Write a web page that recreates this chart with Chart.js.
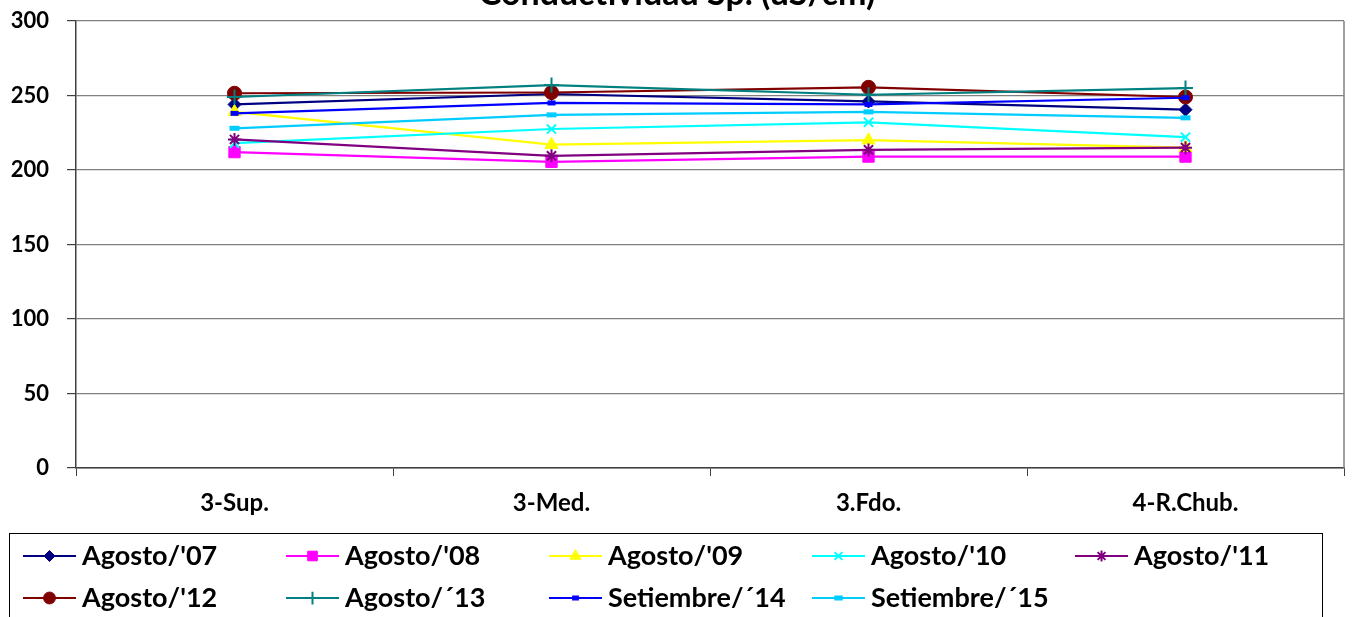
<!DOCTYPE html>
<html>
<head>
<meta charset="utf-8">
<script src="https://cdn.jsdelivr.net/npm/chart.js@4/dist/chart.umd.min.js"></script>
<style>
  html, body { margin: 0; padding: 0; background: #fff; }
  #chart { display: block; }
</style>
</head>
<body>
<canvas id="chart" width="1354" height="617"></canvas>
<script>
// categories (sampling sites)
const sites = ["3-Sup.", "3-Med.", "3.Fdo.", "4-R.Chub."];

// series values, uS/cm
const agosto07 = [244, 251, 246, 240.5];
const agosto08 = [212, 205.5, 209, 209];
const agosto09 = [239, 217, 220, 215];
const agosto10 = [218, 227.5, 232, 222];
const agosto11 = [220.5, 209.5, 213.5, 215];
const agosto12 = [251.5, 252, 255.5, 249];
const agosto13 = [249, 257, 250.5, 255];
const setiembre14 = [238, 245, 244, 248.5];
const setiembre15 = [228, 237, 239, 235];

const seriesNames = ["Agosto/'07", "Agosto/'08", "Agosto/'09", "Agosto/'10", "Agosto/'11",
                     "Agosto/'12", "Agosto/´13", "Setiembre/´14", "Setiembre/´15"];

const titleText = "Conductividad Sp. (uS/cm)";

const styles = [
    { color: '#000080', point: 'rectRot', radius: 6.5 },
    { color: '#FF00FF', point: 'rect', radius: 8 },
    { color: '#FFFF00', point: 'triangle', radius: 7.5 },
    { color: '#00FFFF', point: 'crossRot', radius: 6.5, border: 2 },
    { color: '#800080', point: 'star', radius: 6.5, border: 2 },
    { color: '#800000', point: 'circle', radius: 7 },
    { color: '#008080', point: 'cross', radius: 7.5, border: 2 },
    { color: '#0000FF', point: 'line', radius: 4, border: 5 },
    { color: '#00CCFF', point: 'line', radius: 5, border: 5 }
];
const values = [agosto07, agosto08, agosto09, agosto10, agosto11, agosto12, agosto13, setiembre14, setiembre15];

const datasets = values.map(function (v, i) {
    const s = styles[i];
    return {
        label: seriesNames[i],
        data: v,
        borderColor: s.color,
        backgroundColor: s.color,
        borderWidth: 2.2,
        pointStyle: s.point,
        pointRadius: s.radius,
        pointBackgroundColor: s.color,
        pointBorderColor: s.color,
        pointBorderWidth: s.border || 1,
        tension: 0,
        order: 9 - i
    };
});

// title sits partly above the page edge, like the source
const titlePlugin = {
    id: 'cutTitle',
    afterDraw(chart) {
        const ctx = chart.ctx;
        ctx.save();
        ctx.font = 'bold 34px Lato';
        ctx.fillStyle = '#000';
        ctx.textAlign = 'center';
        ctx.textBaseline = 'alphabetic';
        ctx.fillText(titleText, 677, 5);
        ctx.restore();
    }
};

// right border of plot area
const framePlugin = {
    id: 'frame',
    beforeDatasetsDraw(chart) {
        const a = chart.chartArea;
        const ctx = chart.ctx;
        ctx.save();
        ctx.strokeStyle = '#808080';
        ctx.lineWidth = 1.5;
        ctx.beginPath();
        ctx.moveTo(a.right, a.top);
        ctx.lineTo(a.right, a.bottom);
        ctx.stroke();
        ctx.restore();
    }
};

// boxed legend, five columns
const legendPlugin = {
    id: 'boxLegend',
    afterDraw(chart) {
        const ctx = chart.ctx;
        ctx.save();
        ctx.strokeStyle = '#000';
        ctx.lineWidth = 1;
        ctx.strokeRect(9.5, 533.5, 1313, 120);
        chart.data.datasets.forEach(function (ds, i) {
            const col = i % 5, row = Math.floor(i / 5);
            const x0 = 23 + col * 263;
            const y = 556 + row * 42;
            ctx.strokeStyle = ds.borderColor;
            ctx.lineWidth = 2;
            ctx.beginPath();
            ctx.moveTo(x0, y);
            ctx.lineTo(x0 + 53, y);
            ctx.stroke();
            ctx.fillStyle = ds.pointBackgroundColor;
            ctx.strokeStyle = ds.pointBorderColor;
            ctx.lineWidth = ds.pointBorderWidth;
            Chart.helpers.drawPoint(ctx, {
                pointStyle: ds.pointStyle,
                radius: ds.pointRadius * 0.85,
                borderWidth: ds.pointBorderWidth,
                rotation: 0
            }, x0 + 26.5, y);
            ctx.fillStyle = '#000';
            ctx.font = 'bold 27px Lato';
            ctx.textAlign = 'left';
            ctx.textBaseline = 'middle';
            ctx.fillText(ds.label, x0 + 59, y);
        });
        ctx.restore();
    }
};

new Chart(document.getElementById('chart').getContext('2d'), {
    type: 'line',
    data: { labels: sites, datasets: datasets },
    options: {
        responsive: false,
        animation: false,
        layout: { padding: { top: 21, right: 9, left: 0, bottom: 84 } },
        plugins: {
            legend: { display: false },
            title: { display: false },
            tooltip: { enabled: false }
        },
        scales: {
            x: {
                offset: true,
                grid: {
                    offset: true,
                    drawOnChartArea: false,
                    drawTicks: true,
                    tickLength: 8,
                    color: '#404040'
                },
                border: { color: '#404040', width: 1.5 },
                ticks: {
                    color: '#000',
                    font: { family: 'Lato', weight: 'bold', size: 24 },
                    padding: 13,
                    maxRotation: 0
                },
                afterFit(scale) {
                    scale.height = 65;
                    scale.paddingLeft = 0;
                    scale.paddingRight = 0;
                }
            },
            y: {
                min: 0,
                max: 300,
                ticks: {
                    stepSize: 50,
                    color: '#000',
                    font: { family: 'Lato', weight: 'bold', size: 22 },
                    padding: 18
                },
                grid: {
                    color: '#808080',
                    lineWidth: 1.2,
                    tickLength: 9,
                    tickColor: '#404040'
                },
                border: { color: '#404040', width: 1.5 },
                afterFit(scale) {
                    scale.width = 76;
                    scale.paddingTop = 0;
                    scale.paddingBottom = 0;
                }
            }
        }
    },
    plugins: [framePlugin, titlePlugin, legendPlugin]
});
</script>
</body>
</html>
